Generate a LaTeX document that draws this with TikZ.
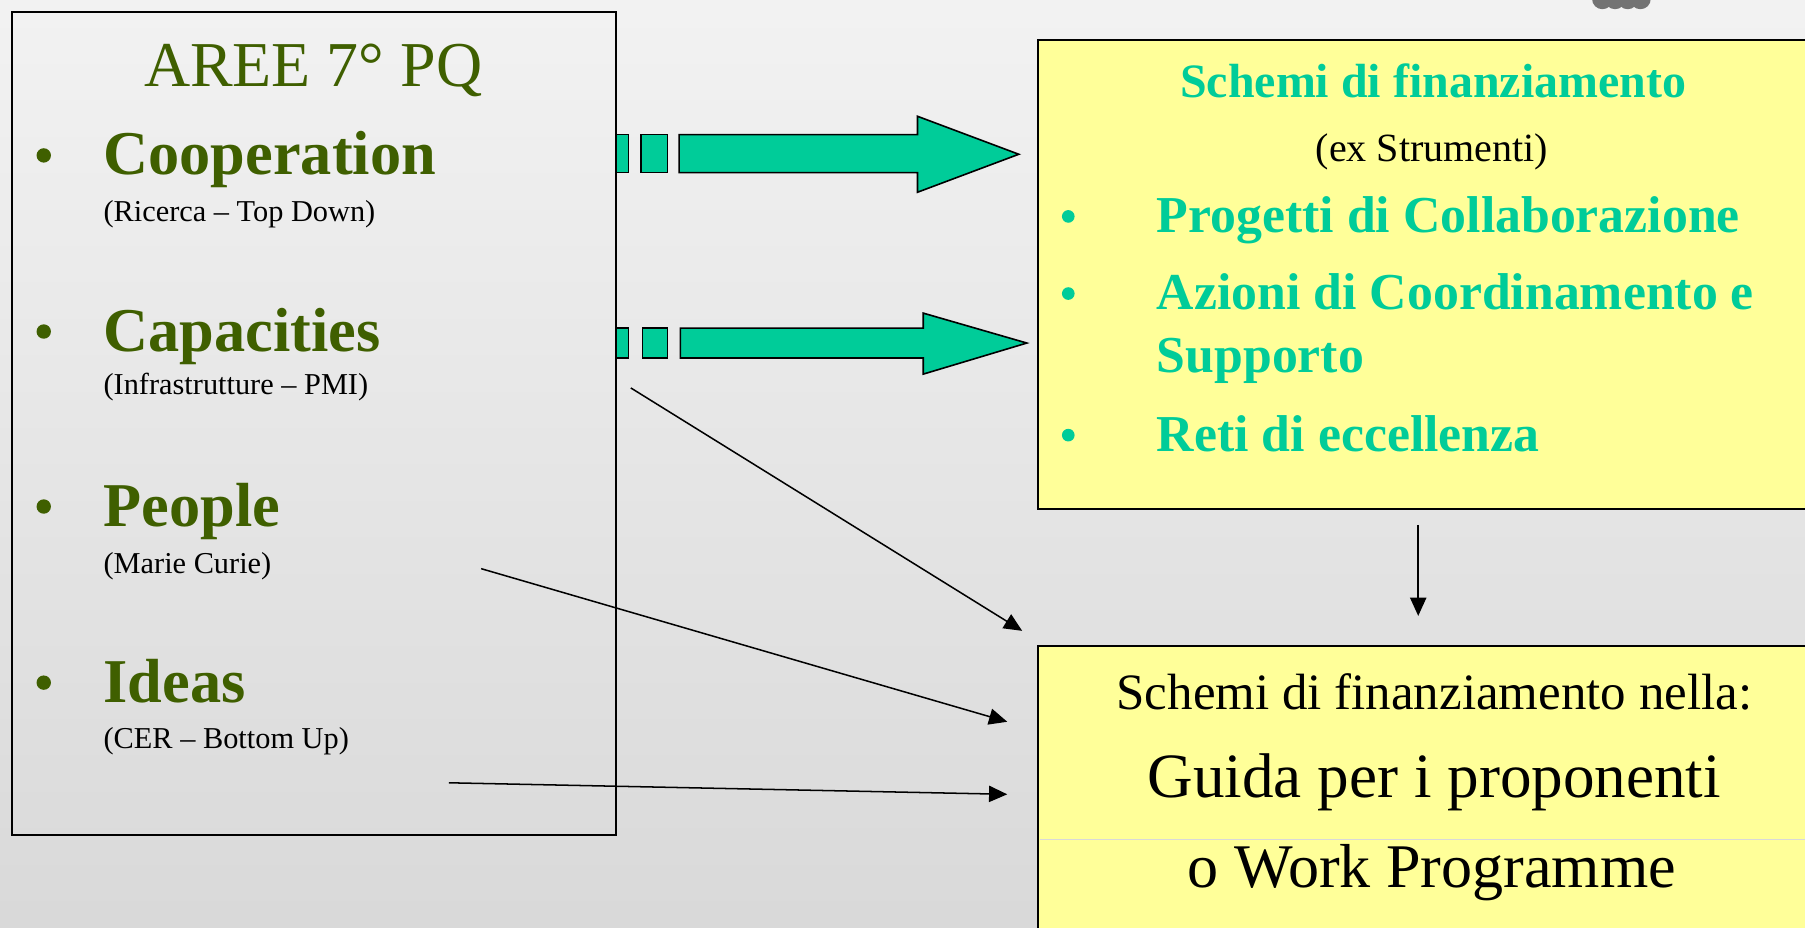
\documentclass[tikz,border=0pt]{standalone}
\usepackage{fontspec}
\setmainfont{Liberation Serif}
\usetikzlibrary{arrows.meta}
\definecolor{oliveGreen}{HTML}{3F5F00}
\definecolor{tealGreen}{HTML}{00CC99}
\definecolor{paleYellow}{HTML}{FFFF99}

\begin{document}
\begin{tikzpicture}[x=0.2mm, y=-0.2mm,
    every node/.style={inner sep=0pt, outer sep=0pt},
    area/.style={text=oliveGreen, font=\bfseries\fontsize{30.8}{36}\selectfont, anchor=base west},
    areanote/.style={font=\fontsize{15}{18}\selectfont, anchor=base west},
    scheme/.style={text=tealGreen, font=\bfseries\fontsize{25.6}{30}\selectfont, anchor=base west},
    dot/.style={circle, minimum size=2.5mm},
    bigarrow/.style={fill=tealGreen, draw=black, line width=0.8pt},
    thinarrow/.style={-{Triangle[length=9pt, width=8pt]}, line width=0.75pt}]

            \useasboundingbox (0,0) rectangle (1568,806);
            \clip (0,0) rectangle (1568,806);
            \shade[top color=black!5, bottom color=black!15] (0,0) rectangle (1568,806);
            % logo corner
            \foreach \lx in {1392,1403,1414,1425}
                \fill[black!55] (\lx,-1) circle (9);

            % left box
            \draw[line width = 1pt] (10,10) rectangle (535,725);
            \node[text=oliveGreen, font=\fontsize{31.6}{37}\selectfont, anchor=base] (areeTitle) at (272,75) {AREE 7° PQ};

            \node[dot, fill=oliveGreen] (coopDot) at (38,135) {};
            \node[area] (coop) at (90,152) {Cooperation};
            \node[areanote] (coopNote) at (90,192) {(Ricerca – Top Down)};

            \node[dot, fill=oliveGreen] (capDot) at (38,288) {};
            \node[area] (cap) at (90,305) {Capacities};
            \node[areanote] (capNote) at (90,343) {(Infrastrutture – PMI)};

            \node[dot, fill=oliveGreen] (peopleDot) at (38,440) {};
            \node[area] (people) at (90,457) {People};
            \node[areanote] (peopleNote) at (90,498) {(Marie Curie)};

            \node[dot, fill=oliveGreen] (ideasDot) at (38,593) {};
            \node[area] (ideas) at (90,610) {Ideas};
            \node[areanote] (ideasNote) at (90,650) {(CER – Bottom Up)};

            % box schemes
            \draw[fill=paleYellow, line width = 1pt] (902,35) rectangle (1600,442);
            \node[text=tealGreen, font=\bfseries\fontsize{23.7}{28}\selectfont, anchor=base] (schemeTitle) at (1245,85) {Schemi di finanziamento};
            \node[font=\fontsize{19.8}{24}\selectfont, anchor=base] (schemeNote) at (1244,140) {(ex Strumenti)};
            \node[dot, fill=tealGreen, minimum size=2.2mm] (projDot) at (928,188) {};
            \node[scheme] (proj) at (1005,202) {Progetti di Collaborazione};
            \node[dot, fill=tealGreen, minimum size=2.2mm] (actDot) at (928,255) {};
            \node[scheme] (act) at (1005,269) {Azioni di Coordinamento e};
            \node[scheme] (actCont) at (1005,324) {Supporto};
            \node[dot, fill=tealGreen, minimum size=2.2mm] (netDot) at (928,378) {};
            \node[scheme] (net) at (1005,392) {Reti di eccellenza};

            % box guide
            \draw[fill=paleYellow, line width = 1pt] (902,561) rectangle (1600,840);
            \draw[black!15, line width = 0.4pt] (903,729) -- (1600,729);
            \node[font=\fontsize{25.2}{30}\selectfont, anchor=base] (guideTitle) at (1246,616) {Schemi di finanziamento nella:};
            \node[font=\fontsize{31.2}{37}\selectfont, anchor=base] (guide) at (1246,693) {Guida per i proponenti};
            \node[font=\fontsize{30.7}{37}\selectfont, anchor=base] (workProg) at (1244,771) {o Work Programme};

            % block arrows
            \draw[bigarrow] (535,117) rectangle (546,150);
            \draw[bigarrow] (557,117) rectangle (580,150);
            \draw[bigarrow] (590,117) -- (797,117) -- (797,101) -- (885,134) -- (797,167) -- (797,150) -- (590,150) -- cycle;

            \draw[bigarrow] (535,285) rectangle (546,311);
            \draw[bigarrow] (558,285) rectangle (580,311);
            \draw[bigarrow] (591,285) -- (802,285) -- (802,272) -- (892,298) -- (802,325) -- (802,311) -- (591,311) -- cycle;

            % thin arrows
            \coordinate (capFrom) at (548,337);
            \coordinate (capTo) at (888,548);
            \coordinate (peopleFrom) at (418,494);
            \coordinate (peopleTo) at (875,627);
            \coordinate (ideasFrom) at (390,680);
            \coordinate (ideasTo) at (875,690);
            \coordinate (schemeOut) at (1232,456);
            \coordinate (guideIn) at (1232,535);
            \draw[thinarrow] (capFrom) -- (capTo);
            \draw[thinarrow] (peopleFrom) -- (peopleTo);
            \draw[thinarrow] (ideasFrom) -- (ideasTo);
            \draw[thinarrow] (schemeOut) -- (guideIn);

        \end{tikzpicture}
\end{document}
